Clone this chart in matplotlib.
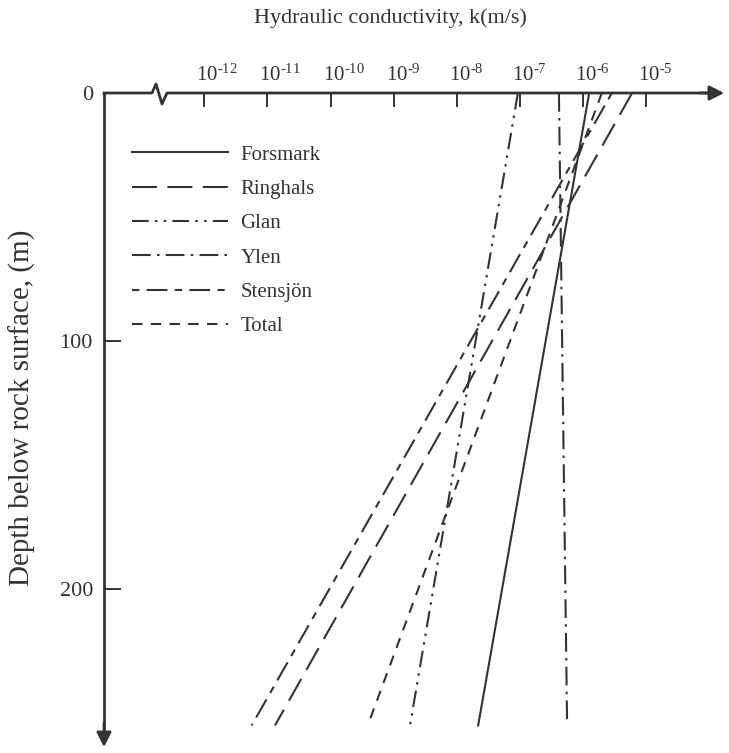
import numpy as np
import matplotlib
matplotlib.use("Agg")
import matplotlib.pyplot as plt
import matplotlib.transforms as mtransforms

plt.rcParams['font.family'] = ['Liberation Serif', 'DejaVu Serif']
plt.rcParams['mathtext.fontset'] = 'custom'
plt.rcParams['mathtext.rm'] = 'Liberation Serif'
plt.rcParams['mathtext.it'] = 'Liberation Serif:italic'

# depth range of each trend line (m)
depth = [0, 255]

# log10 of hydraulic conductivity at top and bottom of each line
sites = ["Forsmark", "Ringhals", "Glan", "Ylen", "Stensjön", "Total"]
logk_top = [-5.90, -5.22, -7.03, -6.38, -5.54, -5.70]
logk_bot = [-7.66, -10.88, -8.74, -6.25, -11.25, -9.41]

xticks_exp = [-12, -11, -10, -9, -8, -7, -6, -5]
yticks = [0, 100, 200]

styles = {
    "Forsmark": '-',
    "Ringhals": (0, (12, 5)),
    "Glan": (0, (8, 3, 1.2, 3, 1.2, 3)),
    "Ylen": (0, (9, 3, 1.2, 3)),
    "Stensjön": (0, (3.5, 3.5, 10, 3.5)),
    "Total": (0, (5, 4)),
}

col = '#333333'

fig = plt.figure(figsize=(7.29, 7.53), dpi=100)
W, H = 729, 753
x0, x1, y0, y1 = 104, 727, 93, 750
ax = fig.add_axes([x0 / W, (H - y1) / H, (x1 - x0) / W, (y1 - y0) / H])

for i, s in enumerate(sites):
    k = [10 ** logk_top[i], 10 ** logk_bot[i]]
    ax.plot(k, depth, color=col, lw=1.5, linestyle=styles[s], label=s)

ax.set_xscale('log')
ax.set_xlim(10 ** -13.59, 10 ** -3.716)
ax.set_ylim(264.9, 0)

for sp in ax.spines.values():
    sp.set_visible(False)

ax.xaxis.tick_top()
ax.set_xticks([10.0 ** e for e in xticks_exp])
ax.set_xticklabels([])
ax.xaxis.set_minor_locator(matplotlib.ticker.NullLocator())
ax.tick_params(axis='x', direction='in', length=10, width=1.4, color=col)
# "10" centred on the tick, exponent hanging to the right
lab_tr = mtransforms.offset_copy(ax.get_xaxis_transform(), fig=fig, x=-8, y=7, units='dots')
for e in xticks_exp:
    ax.text(10.0 ** e, 1, r'$10^{\text{-}%d}$' % abs(e), transform=lab_tr, ha='left',
            va='bottom', fontsize=15, color=col)

ax.set_yticks(yticks)
ax.set_yticklabels([str(v) for v in yticks])
ax.tick_params(axis='y', direction='in', length=12, width=1.4, color=col,
               labelcolor=col, labelsize=16, pad=8)

# axis lines with break and arrows
aw, ah = x1 - x0, y1 - y0
zx = [0, 48, 52, 58, 63, aw - 15]
zy = [0, 0, 9, -11, 0, 0]
ax.plot([p / aw for p in zx], [1 + p / ah for p in zy], transform=ax.transAxes,
        color=col, lw=2, clip_on=False)
ax.plot([0, 0], [1, 15 / ah], transform=ax.transAxes, color=col, lw=2, clip_on=False)
ax.annotate('', xy=(1, 1), xytext=(1 - 30 / aw, 1), xycoords='axes fraction',
            arrowprops=dict(arrowstyle='-|>', color=col, lw=2, mutation_scale=22))
ax.annotate('', xy=(0, 0), xytext=(0, 30 / ah), xycoords='axes fraction',
            arrowprops=dict(arrowstyle='-|>', color=col, lw=2, mutation_scale=22))

leg = ax.legend(loc='upper left', bbox_to_anchor=(28 / aw, 1 - 52 / ah), frameon=False,
                fontsize=15, handlelength=4.6, handletextpad=0.6, labelspacing=0.71,
                borderpad=0, borderaxespad=0)
for t in leg.get_texts():
    t.set_color(col)

fig.text(390 / W, 1 - 18 / H, 'Hydraulic conductivity, k(m/s)', ha='center', va='center',
         fontsize=16, color=col)
fig.text(22 / W, 1 - 408 / H, 'Depth below rock surface, (m)', ha='center', va='center',
         rotation=90, fontsize=21, color=col)

fig.savefig('out.png', dpi=100, facecolor='white')
